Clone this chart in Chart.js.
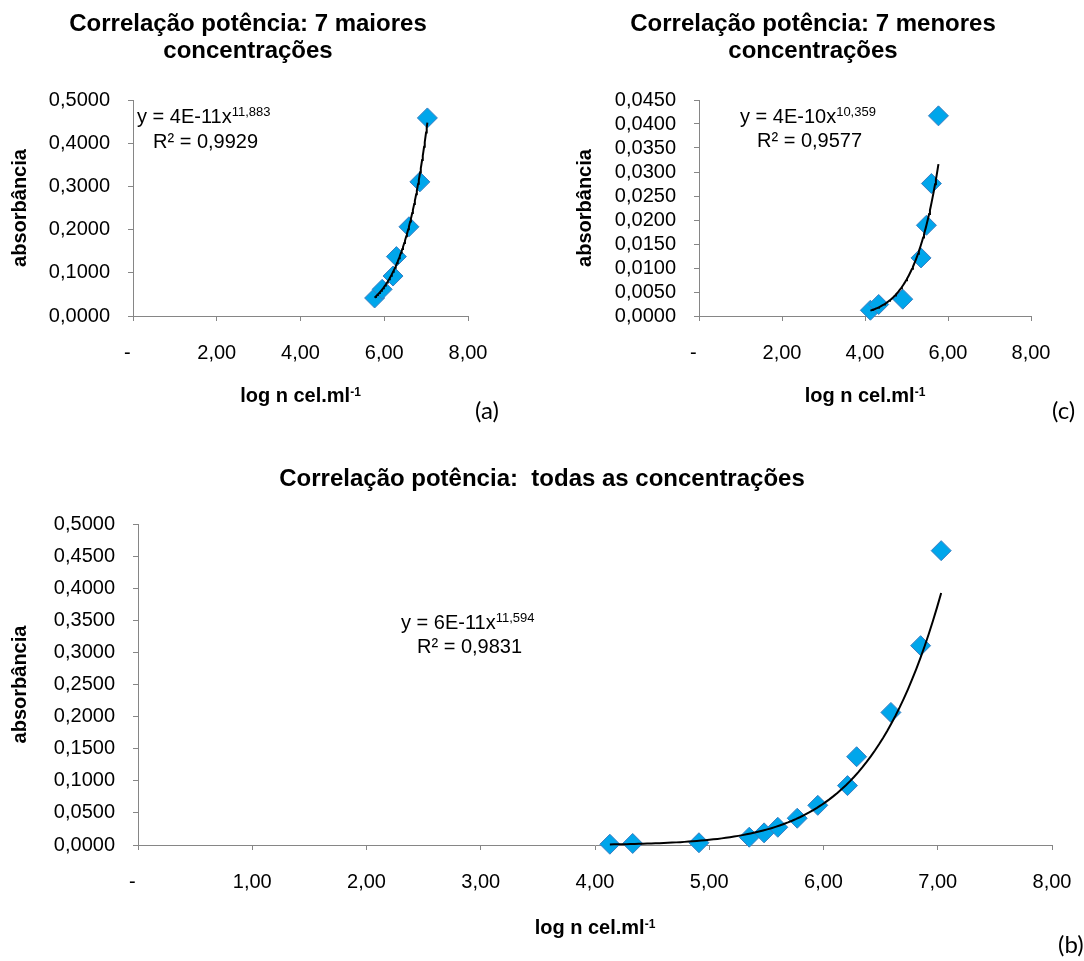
<!DOCTYPE html>
<html>
<head>
<meta charset="utf-8">
<script src="https://cdn.jsdelivr.net/npm/chart.js@4.4.0/dist/chart.umd.min.js"></script>
<style>
  body { margin: 0; background: #fff; }
  #pagina { position: relative; width: 1084px; height: 961px; overflow: hidden; background: #fff; }
  canvas { position: absolute; }
  .letra { position: absolute; font-family: Lato, "Open Sans", sans-serif; font-size: 24px; line-height: 1; color: #000; }
</style>
</head>
<body>
<div id="pagina">
  <canvas id="graf-a" width="496" height="420" style="left:0;top:0"></canvas>
  <canvas id="graf-c" width="542" height="420" style="left:542px;top:0"></canvas>
  <canvas id="graf-b" width="1084" height="541" style="left:0;top:420px"></canvas>
  <div class="letra" style="left:475px;top:398px">(a)</div>
  <div class="letra" style="left:1052px;top:398px">(c)</div>
  <div class="letra" style="left:1058px;top:932px">(b)</div>
</div>
<script>
// log n cel.ml-1 e absorbância (13 concentrações)
var logCel = [4.13, 4.33, 4.91, 5.35, 5.48, 5.60, 5.77, 5.95, 6.21, 6.29, 6.59, 6.85, 7.03];
var absorbancia = [0.0012, 0.0024, 0.0035, 0.0121, 0.0189, 0.0276, 0.0417, 0.0618, 0.0925, 0.1375, 0.2065, 0.3105, 0.4585];

// 7 maiores e 7 menores concentrações
var logMaiores = logCel.slice(6);
var absMaiores = absorbancia.slice(6);
var logMenores = logCel.slice(0, 7);
var absMenores = absorbancia.slice(0, 7);

// equações das linhas de tendência (texto)
var eqMaiores = ['y = 4E-11x', '11,883', 'R² = 0,9929'];
var eqMenores = ['y = 4E-10x', '10,359', 'R² = 0,9577'];
var eqTodas = ['y = 6E-11x', '11,594', 'R² = 0,9831'];

Chart.defaults.font.family = '"Liberation Sans", Arial, sans-serif';
Chart.defaults.color = '#000';

var fonte = '"Liberation Sans", Arial, sans-serif';
var cinza = '#868686';

// ajuste potência y = a*x^b (mínimos quadrados em ln-ln), como no Excel
function tendencia(xs, ys) {
  var n = xs.length, sx = 0, sy = 0, sxx = 0, sxy = 0;
  for (var i = 0; i < n; i++) {
    var lx = Math.log(xs[i]), ly = Math.log(ys[i]);
    sx += lx; sy += ly; sxx += lx * lx; sxy += lx * ly;
  }
  var b = (n * sxy - sx * sy) / (n * sxx - sx * sx);
  var a = Math.exp((sy - b * sx) / n);
  var x0 = Math.min.apply(null, xs), x1 = Math.max.apply(null, xs);
  var pts = [];
  for (var k = 0; k <= 80; k++) {
    var x = x0 + (x1 - x0) * k / 80;
    pts.push({ x: x, y: a * Math.pow(x, b) });
  }
  return pts;
}

// textos com expoente (equações e título do eixo x)
var textoExtra = {
  id: 'textoExtra',
  afterDraw: function (chart, args, opts) {
    var ctx = chart.ctx, area = chart.chartArea;
    ctx.save();
    ctx.fillStyle = '#000';
    ctx.textAlign = 'left';
    ctx.textBaseline = 'alphabetic';
    opts.itens.forEach(function (it) {
      ctx.font = it.fonte;
      var w = ctx.measureText(it.texto).width;
      var ws = 0;
      if (it.sup) {
        ctx.font = it.fonteSup;
        ws = ctx.measureText(it.sup).width;
      }
      var x = it.centro ? (area.left + area.right) / 2 - (w + ws) / 2 : it.x;
      ctx.font = it.fonte;
      ctx.fillText(it.texto, x, it.y);
      if (it.sup) {
        ctx.font = it.fonteSup;
        ctx.fillText(it.sup, x + w, it.y - it.sobe);
      }
    });
    ctx.restore();
  }
};

function itensEquacao(eq, x1, y1, x2, y2) {
  return [
    { texto: eq[0], sup: eq[1], x: x1, y: y1, fonte: '20px ' + fonte, fonteSup: '13px ' + fonte, sobe: 7 },
    { texto: eq[2], x: x2, y: y2, fonte: '20px ' + fonte }
  ];
}

function tituloX(y) {
  return { texto: 'log n cel.ml', sup: '-1', centro: true, y: y, fonte: 'bold 20px ' + fonte, fonteSup: 'bold 12px ' + fonte, sobe: 6 };
}

function grafico(id, c) {
  var pontos = c.xs.map(function (x, i) { return { x: x, y: c.ys[i] }; });
  return new Chart(document.getElementById(id), {
    type: 'scatter',
    data: {
      datasets: [
        {
          data: tendencia(c.xs, c.ys),
          showLine: true,
          borderColor: '#000',
          borderWidth: 2,
          pointRadius: 0,
          order: 0,
          clip: false
        },
        {
          data: pontos,
          pointStyle: 'rectRot',
          pointRadius: 10,
          backgroundColor: '#00A6EB',
          borderColor: '#3A7DC0',
          borderWidth: 1,
          order: 1,
          clip: false
        }
      ]
    },
    options: {
      responsive: false,
      animation: false,
      events: [],
      layout: { padding: 0 },
      plugins: {
        legend: { display: false },
        tooltip: { enabled: false },
        title: {
          display: true,
          text: c.titulo,
          color: '#000',
          font: { size: 24, weight: 'bold', lineHeight: 1.1375 },
          padding: c.padTitulo
        },
        textoExtra: { itens: c.textos }
      },
      scales: {
        x: {
          type: 'linear',
          min: 0,
          max: 8,
          ticks: {
            stepSize: c.passoX,
            autoSkip: false,
            padding: 20,
            font: { size: 20 },
            color: '#000',
            callback: function (v) { return v === 0 ? '-  ' : v.toFixed(2).replace('.', ','); }
          },
          grid: { drawOnChartArea: false, tickLength: 5, color: cinza },
          border: { color: cinza, width: 1 },
          afterFit: function (s) { s.height = c.altX; s.paddingRight = c.dirX; }
        },
        y: {
          min: 0,
          max: c.maxY,
          ticks: {
            stepSize: c.passoY,
            autoSkip: false,
            padding: 18,
            font: { size: 20 },
            color: '#000',
            callback: function (v) { return v.toFixed(4).replace('.', ','); }
          },
          grid: { drawOnChartArea: false, tickLength: 5, color: cinza },
          border: { color: cinza, width: 1 },
          title: {
            display: true,
            text: 'absorbância',
            color: '#000',
            font: { size: 20, weight: 'bold' },
            padding: { top: c.padTituloY, bottom: 0 }
          },
          afterFit: function (s) { s.width = c.largY; }
        }
      }
    },
    plugins: [textoExtra]
  });
}

grafico('graf-a', {
  titulo: ['Correlação potência: 7 maiores', 'concentrações'],
  padTitulo: { top: 10.7, bottom: 34.7 },
  xs: logMaiores, ys: absMaiores,
  passoX: 2, maxY: 0.5, passoY: 0.1,
  altX: 104, dirX: 28, largY: 133, padTituloY: 8,
  textos: itensEquacao(eqMaiores, 137, 123, 153, 148).concat([tituloX(402)])
});

grafico('graf-c', {
  titulo: ['Correlação potência: 7 menores', 'concentrações'],
  padTitulo: { top: 10.7, bottom: 34.7 },
  xs: logMenores, ys: absMenores,
  passoX: 2, maxY: 0.045, passoY: 0.005,
  altX: 104, dirX: 53, largY: 157, padTituloY: 31,
  textos: itensEquacao(eqMenores, 198, 123, 215, 147).concat([tituloX(402)])
});

grafico('graf-b', {
  titulo: 'Correlação potência:  todas as concentrações',
  padTitulo: { top: 46, bottom: 30.7 },
  xs: logCel, ys: absorbancia,
  passoX: 1, maxY: 0.5, passoY: 0.05,
  altX: 116, dirX: 32, largY: 138, padTituloY: 8,
  textos: itensEquacao(eqTodas, 401, 209, 417, 233).concat([tituloX(514)])
});
</script>
</body>
</html>
